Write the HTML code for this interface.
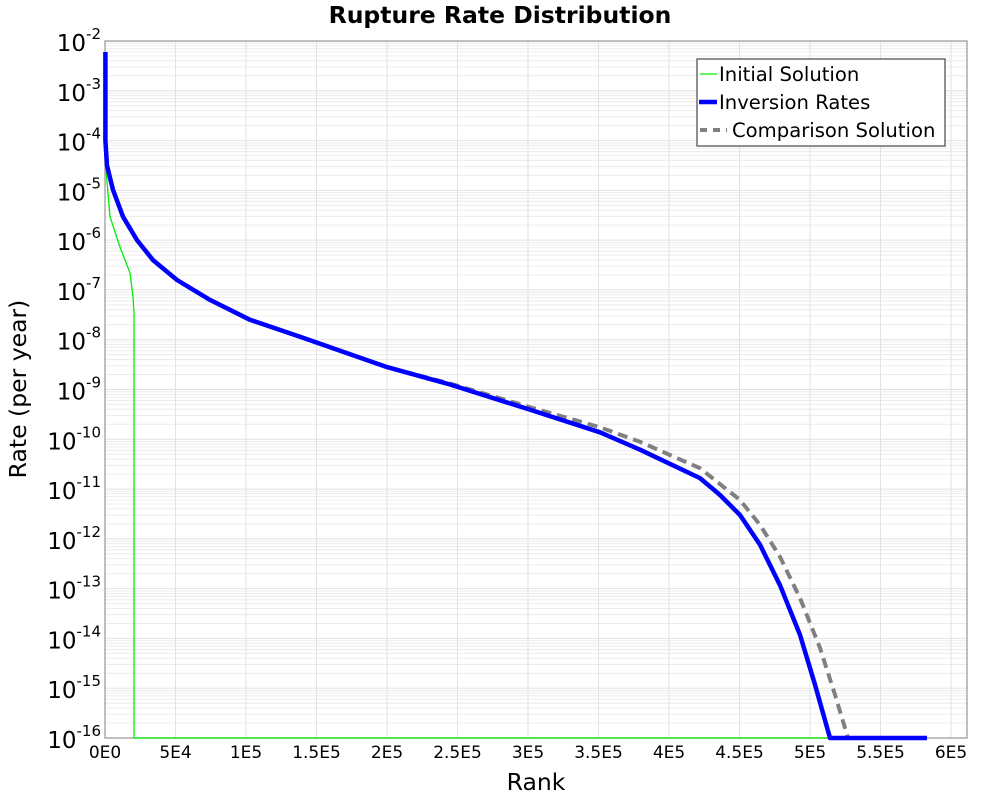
<!DOCTYPE html>
<html><head><meta charset="utf-8"><style>
body{margin:0;background:#fff;font-family:"Liberation Sans","DejaVu Sans",sans-serif}
svg text{font-family:"DejaVu Sans","Liberation Sans",sans-serif}
</style></head><body>
<svg id="c" width="1000" height="800" xmlns="http://www.w3.org/2000/svg"></svg>
<script>
const xTicks=[0,5e4,1e5,1.5e5,2e5,2.5e5,3e5,3.5e5,4e5,4.5e5,5e5,5.5e5,6e5];
const xTickLabels=["0E0","5E4","1E5","1.5E5","2E5","2.5E5","3E5","3.5E5","4E5","4.5E5","5E5","5.5E5","6E5"];
const yExps=[-2,-3,-4,-5,-6,-7,-8,-9,-10,-11,-12,-13,-14,-15,-16];
const invRank=[300,300,1418,5674,12766,22695,34043,51064,74468,102837,138298,200000,244680,300709,351064,379433,421986,436170,450355,464539,478723,492908,503546,514184,582978];
const invLog=[-2.22,-4,-4.5,-4.99,-5.53,-6.0,-6.4,-6.8,-7.2,-7.6,-7.94,-8.55,-8.9,-9.4,-9.86,-10.21,-10.78,-11.12,-11.52,-12.12,-12.93,-13.93,-14.93,-16,-16];
const cmpRank=[300,300,1418,5674,12766,22695,34043,51064,74468,102837,138298,200000,244680,300709,351064,379433,421986,450355,464539,478723,492908,507092,517730,526950];
const cmpLog=[-2.22,-4,-4.5,-4.99,-5.53,-6.0,-6.4,-6.8,-7.2,-7.6,-7.94,-8.55,-8.88,-9.35,-9.76,-10.05,-10.58,-11.22,-11.72,-12.36,-13.19,-14.19,-15.13,-16];
const iniRank=[300,700,3546,10638,17730,19858,20567,20567,582978];
const iniLog=[-4.0,-4.59,-5.53,-6.14,-6.66,-7.14,-7.46,-16,-16];
const L=105,R=967,T=41,B=738;
const xs=v=>L+v/6e5*846;
const ys=e=>T+(-2-e)/14*(B-T);
const svg=document.getElementById('c');
const NS='http://www.w3.org/2000/svg';
function mk(tag,attrs,txt){const e=document.createElementNS(NS,tag);for(const k in attrs)e.setAttribute(k,attrs[k]);if(txt!==undefined)e.textContent=txt;svg.appendChild(e);return e;}
for(let d=-16;d<-2;d++){for(let m=2;m<10;m++){const y=ys(d+Math.log10(m));
const g=mk('line',{x1:L,x2:R,y1:y,y2:y,stroke:'#ececec','stroke-width':1});

}}
yExps.forEach(e=>{const y=ys(e);
const g=mk('line',{x1:L,x2:R,y1:y,y2:y,stroke:'#e2e2e2','stroke-width':1});


const t=mk('text',{x:101,y:y+10,'font-size':23,'text-anchor':'end'});


t.innerHTML='10<tspan dy="-12" font-size="15">'+e+'</tspan>';});
xTicks.forEach((v,i)=>{const x=xs(v);
const g=mk('line',{x1:x,x2:x,y1:T,y2:B,stroke:'#e2e2e2','stroke-width':1});


const t=mk('text',{x:x,y:758,'font-size':17,'text-anchor':'middle'},xTickLabels[i]);

});
const fr=mk('rect',{x:L,y:T,width:R-L,height:B-T,fill:'none',stroke:'#aaa','stroke-width':1.5});


function pts(r,l){return r.map((v,i)=>xs(v).toFixed(1)+','+ys(l[i]).toFixed(1)).join(' ');}
const g1=mk('polyline',{points:pts(iniRank,iniLog),fill:'none',stroke:'#00ee00','stroke-width':1.3});


const g3=mk('polyline',{points:pts(cmpRank,cmpLog),fill:'none',stroke:'#808080','stroke-width':4,'stroke-dasharray':'10,6'});


const g2=mk('polyline',{points:pts(invRank,invLog),fill:'none',stroke:'#0000ff','stroke-width':4.5,'stroke-linejoin':'round'});


const lg=mk('rect',{x:697,y:59,width:248,height:87,fill:'#fff',stroke:'#555','stroke-width':1.3});


const items=[['Initial Solution','#00ee00',1.3,null,700,714],['Inversion Rates','#0000ff',4.5,null,699,717],['Comparison Solution','#808080',4,'7,6',700,727]];
items.forEach((it,i)=>{const y=74+i*28;
const a={x1:it[4],x2:i==2?727:717,y1:y,y2:y,stroke:it[1],'stroke-width':it[2]};if(it[3])a['stroke-dasharray']=it[3];
const l=mk('line',a);


const t=mk('text',{x:i==2?732:719,y:y+7,'font-size':19.6},it[0]);

});
const tt=mk('text',{x:500,y:23,'font-size':23.5,'font-weight':'bold','text-anchor':'middle'},'Rupture Rate Distribution');


const xt=mk('text',{x:536,y:790,'font-size':23.5,'text-anchor':'middle'},'Rank');


const yt=mk('text',{x:0,y:0,'font-size':23.5,'text-anchor':'middle',transform:'translate(26,389) rotate(-90)'},'Rate (per year)');


</script>
</body></html>
